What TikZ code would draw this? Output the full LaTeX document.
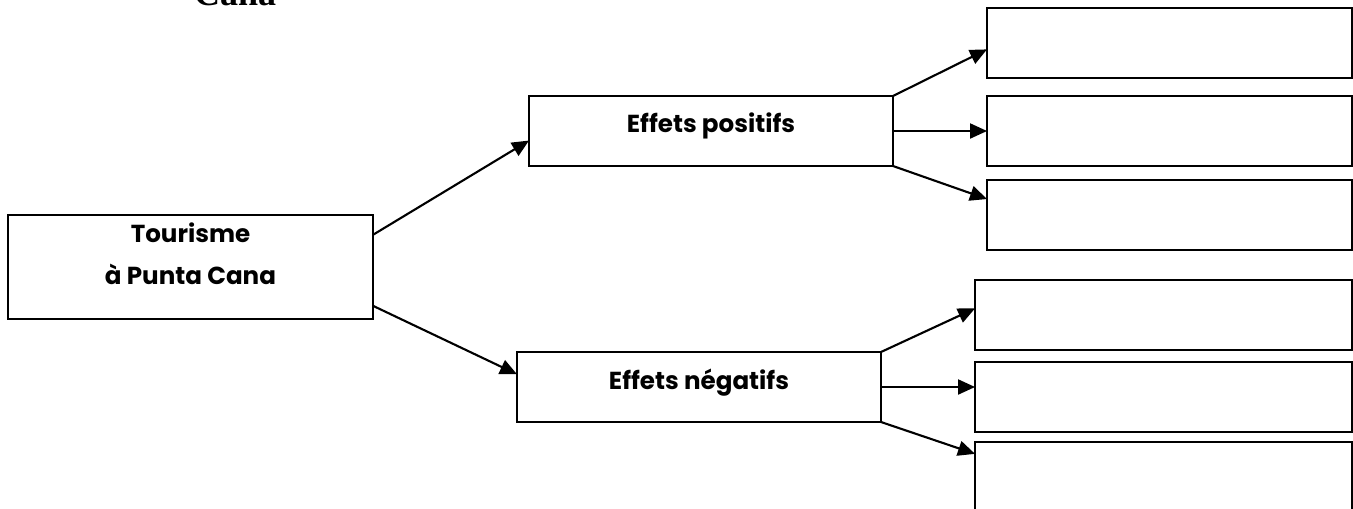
\documentclass[tikz,border=0pt]{standalone}
\usepackage{fontspec}
\setmainfont{Liberation Serif}
\newfontfamily\gothic{Poppins}
\usetikzlibrary{arrows.meta}

\tikzset{
  box/.style={draw, fill=white, line width=1.2pt, inner sep=0pt, outer sep=0pt, minimum height=1.4cm},
  txt/.style={font=\gothic\bfseries\fontsize{14}{24}\selectfont, align=center},
  link/.style={line width=1.2pt, -{Triangle[length=0.34cm, width=0.3cm]}}
}

\begin{document}
\begin{tikzpicture}[x=0.02cm, y=-0.02cm, line join=miter]
    \useasboundingbox (0, 0) rectangle (1353, 508);
    \node[anchor=base west, font=\bfseries\fontsize{20.5}{24}\selectfont] (titre) at (188, 5) {Cana};

    \node[box, minimum width=7.3cm, minimum height=2.08cm, label={[txt, yshift=0.26cm]center:Tourisme\\à Punta Cana}] (tourisme) at (190.5, 267) {};
    \node[box, minimum width=7.28cm, label={[txt, yshift=0.11cm]center:Effets positifs}] (positifs) at (711, 131) {};
    \node[box, minimum width=7.28cm, label={[txt, yshift=0.09cm]center:Effets négatifs}] (negatifs) at (699, 387) {};

    \node[box, minimum width=7.3cm] (pos1) at (1169.5, 43) {};
    \node[box, minimum width=7.3cm] (pos2) at (1169.5, 131) {};
    \node[box, minimum width=7.3cm] (pos3) at (1169.5, 215) {};

    \node[box, minimum width=7.54cm] (neg1) at (1163.5, 315) {};
    \node[box, minimum width=7.54cm] (neg2) at (1163.5, 397) {};
    \node[box, minimum width=7.54cm] (neg3) at (1163.5, 477) {};

    \draw[link] (tourisme.10) -- (positifs.183.5);
    \draw[link] (tourisme.-12) -- (negatifs.176);

    \draw[link] (positifs.north east) -- (pos1.182.8);
    \draw[link] (positifs.east) -- (positifs.east -| pos2.west);
    \draw[link] (positifs.south east) -- (pos3.175.6);

    \draw[link] (negatifs.north east) -- (neg1.178.8);
    \draw[link] (negatifs.east) -- (negatifs.east -| neg2.west);
    \draw[link] (negatifs.south east) -- (neg3.173.9);
\end{tikzpicture}
\end{document}
